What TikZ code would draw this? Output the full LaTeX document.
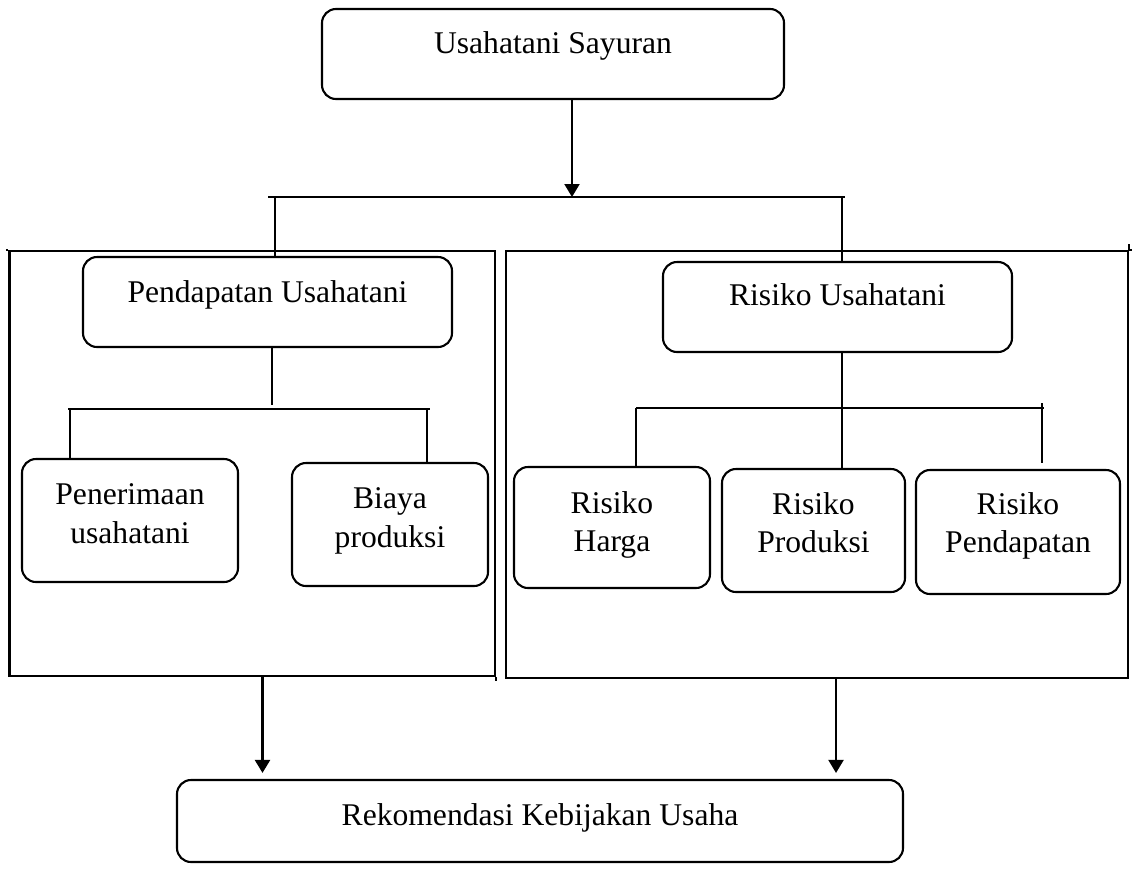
\documentclass[tikz,border=0pt]{standalone}
\usepackage{fontspec}
\setmainfont{Liberation Serif}
\usetikzlibrary{arrows.meta}
\begin{document}
\begin{tikzpicture}[x=1pt,y=-1pt,
  every path/.style={line width=2.1pt},
  rbox/.style={draw, line width=2.1pt, rounded corners=14pt, inner sep=0pt},
  frame/.style={draw, line width=2.1pt, inner sep=0pt},
  lbl/.style={inner sep=0pt, anchor=base, font=\fontsize{31.6}{38}\selectfont},
  arr/.style={-{Triangle[length=13pt,width=15pt]}, line width=2.1pt}]
\useasboundingbox (0,0) rectangle (1132,868);

% containers
\node[frame, minimum width=485.5pt, minimum height=425pt] (lc) at (252.25,463.5) {};
\node[frame, minimum width=622pt, minimum height=427pt] (rc) at (817,464.5) {};
% small overhangs of the container frames
\draw (lc.north west) -- ++(-2,0);
\draw (lc.south east) -- ++(0,4);
\draw (rc.north east) -- ++(4,0);
\draw (rc.north east) -- ++(0,-6);

% boxes
\node[rbox, minimum width=462pt, minimum height=90pt] (top) at (553,54) {};
\node[lbl] (topt) at (553,53) {Usahatani Sayuran};

\node[rbox, minimum width=369pt, minimum height=90pt] (pend) at (267.5,302) {};
\node[lbl] (pendt) at (267.5,302) {Pendapatan Usahatani};

\node[rbox, minimum width=349pt, minimum height=90pt] (risk) at (837.5,307) {};
\node[lbl] (riskt) at (837.5,305) {Risiko Usahatani};

\node[rbox, minimum width=216pt, minimum height=123pt] (pen) at (130,520.5) {};
\node[lbl] (pent1) at (130,504) {Penerimaan};
\node[lbl] (pent2) at (130,543) {usahatani};

\node[rbox, minimum width=196pt, minimum height=123pt] (bia) at (390,524.5) {};
\node[lbl] (biat1) at (390,508) {Biaya};
\node[lbl] (biat2) at (390,547) {produksi};

\node[rbox, minimum width=196pt, minimum height=121pt] (rh) at (612,527.5) {};
\node[lbl] (rht1) at (612,513) {Risiko};
\node[lbl] (rht2) at (612,551) {Harga};

\node[rbox, minimum width=183pt, minimum height=123pt] (rp) at (813.5,530.5) {};
\node[lbl] (rpt1) at (813.5,514) {Risiko};
\node[lbl] (rpt2) at (813.5,552) {Produksi};

\node[rbox, minimum width=204pt, minimum height=124pt] (rd) at (1018,532) {};
\node[lbl] (rdt1) at (1018,514) {Risiko};
\node[lbl] (rdt2) at (1018,552) {Pendapatan};

\node[rbox, minimum width=726pt, minimum height=82pt] (rek) at (540,821) {};
\node[lbl] (rekt) at (540,825) {Rekomendasi Kebijakan Usaha};

% top connectors
\coordinate (ja) at (572,197);
\coordinate (hl) at (268,197);
\coordinate (hr) at (845,197);
\coordinate (jl) at (275,197);
\coordinate (jr) at (842,197);
\draw[arr] (top.south -| ja) -- (ja);
\draw (hl) -- (hr);
\draw (jl) -- (jl |- pend.north);
\draw (jr) -- (jr |- risk.north);

% pendapatan subtree
\coordinate (pj) at (272,405);
\coordinate (pl) at (68,409);
\coordinate (pr) at (430,409);
\coordinate (pa) at (70,409);
\coordinate (pb) at (427,409);
\draw (pend.south -| pj) -- (pj);
\draw (pl) -- (pr);
\draw (pa) -- (pa |- pen.north);
\draw (pb) -- (pb |- bia.north);

% risiko subtree
\coordinate (rj) at (842,408);
\coordinate (rl) at (636,408);
\coordinate (rr) at (1044,408);
\coordinate (rb) at (1042,403);
\coordinate (rbe) at (1042,463);
\draw (risk.south -| rj) -- (rj |- rp.north);
\draw (rl) -- (rr);
\draw (rl) -- (rl |- rh.north);
\draw (rb) -- (rbe);

% bottom arrows
\coordinate (la) at (262.5,677);
\coordinate (ra) at (836,678);
\draw[arr, shorten >=6pt] (la) -- (la |- rek.north);
\draw[arr, shorten >=6pt] (ra) -- (ra |- rek.north);
\end{tikzpicture}
\end{document}
